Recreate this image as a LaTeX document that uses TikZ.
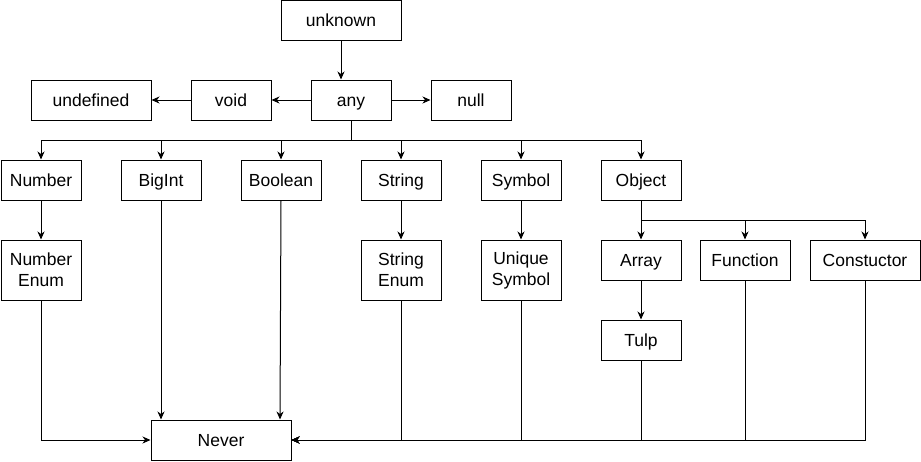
\documentclass[tikz,border=0pt]{standalone}
\usepackage{fontspec}
\setmainfont{Liberation Sans}
\usepackage{tikz}
\usetikzlibrary{arrows.meta, positioning}
\tikzset{
    tallbox/.style={
        rectangle,
        draw=black,
        line width=1pt,
        fill=white,
        inner sep=0pt,
        minimum width=80pt,
        minimum height=60pt,
        align=center,
        font=\fontsize{17.5}{21}\selectfont,
    },
    typebox/.style={
        tallbox,
        minimum height=40pt,
        text height=12.5pt,
        text depth=0pt,
    },
    link/.style={
        line width=1pt,
    },
}

\begin{document}
\begin{tikzpicture}[x=1pt, y=1pt, on grid, >={Stealth[length=8pt, width=7pt, inset=2.5pt]}]
      \useasboundingbox (0,0) rectangle (921,-461);

      \node[typebox] (any) at (351,-100) {any};

      \node[typebox, minimum width=120pt, above=80pt of any, xshift=-10pt] (unknown) {unknown};

      \node[typebox, left=120pt of any] (void) {void};

      \node[typebox, minimum width=120pt, left=140pt of void] (undefined) {undefined};

      \node[typebox, right=120pt of any] (null) {null};

      \node[typebox] (number) at (41,-180) {Number};

      \node[typebox, right=120pt of number] (bigint) {BigInt};

      \node[typebox, right=120pt of bigint] (boolean) {Boolean};

      \node[typebox, right=120pt of boolean] (string) {String};

      \node[typebox, right=120pt of string] (symbol) {Symbol};

      \node[typebox, right=120pt of symbol] (object) {Object};

      \node[tallbox, below=90pt of number] (numenum) {Number\\Enum};

      \node[tallbox, below=90pt of string] (strenum) {String\\Enum};

      \node[tallbox, below=90pt of symbol] (usymbol) {Unique\\Symbol};

      \node[typebox, below=80pt of object] (array) {Array};

      \node[typebox, minimum width=90pt, right=104pt of array] (function) {Function};

      \node[typebox, minimum width=110pt, right=120pt of function] (ctor) {Constuctor};

      \node[typebox, below=80pt of array] (tulp) {Tulp};

      \node[typebox, minimum width=140pt] (never) at (221,-440) {Never};

      \draw[link, ->] (unknown.south) -- (unknown.south |- any.north);
      \draw[link, ->] (any) -- (void);
      \draw[link, ->] (void) -- (undefined);
      \draw[link, ->] (any) -- (null);

      \draw[link] (any.south) -- ++(0,-20) coordinate (anybus);
      \foreach \t in {number, bigint, boolean, string, symbol, object}
        \draw[link, ->] (anybus) -| (\t.north);

      \draw[link, ->] (number) -- (numenum);
      \draw[link, ->] (string) -- (strenum);
      \draw[link, ->] (symbol) -- (usymbol);

      \draw[link] (object.south) -- ++(0,-20) coordinate (objbus);
      \foreach \t in {array, function, ctor}
        \draw[link, ->] (objbus) -| (\t.north);
      \draw[link, ->] (array) -- (tulp);

      \draw[link, ->] (numenum.south) |- (never.west);
      \draw[link, ->] (bigint.south) -- (bigint.south |- never.north);
      \draw[link, ->] (boolean.south) -- ([xshift=-1pt]boolean.south |- never.north);
      \foreach \t in {strenum, usymbol, tulp, function, ctor}
        \draw[link, ->] (\t.south) |- (never.east);

    \end{tikzpicture}
\end{document}
